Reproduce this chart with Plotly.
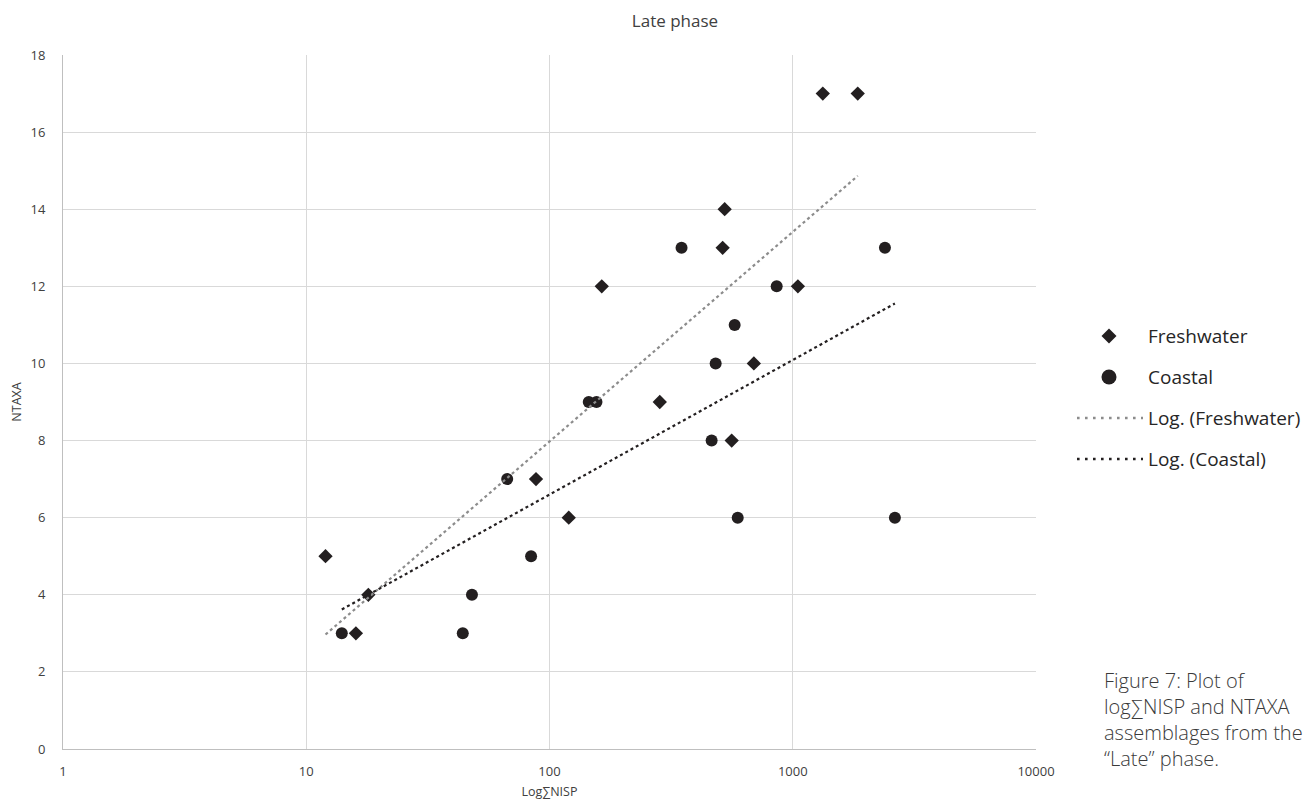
import numpy as np
import plotly.graph_objects as go

# Freshwater assemblages
fresh_nisp = [12, 16, 18, 88, 120, 164, 284, 515, 525, 561, 692, 1050, 1329, 1850]
fresh_ntaxa = [5, 3, 4, 7, 6, 12, 9, 13, 14, 8, 10, 12, 17, 17]

# Coastal assemblages
coast_nisp = [14, 44, 48, 67, 84, 145, 156, 349, 464, 482, 577, 594, 859, 2393, 2630]
coast_ntaxa = [3, 3, 4, 7, 5, 9, 9, 13, 8, 10, 11, 6, 12, 13, 6]

x_ticks = [1, 10, 100, 1000, 10000]
x_tick_labels = ["1", "10", "100", "1000", "10000"]
y_ticks = list(range(0, 19, 2))

legend_labels = ["Freshwater", "Coastal", "Log. (Freshwater)", "Log. (Coastal)"]


def log_trend(xs, ys):
    lx = np.log(np.array(xs, dtype=float))
    a, b = np.polyfit(lx, np.array(ys, dtype=float), 1)
    xx = np.exp(np.linspace(lx.min(), lx.max(), 50))
    return xx, a * np.log(xx) + b


fx, fy = log_trend(fresh_nisp, fresh_ntaxa)
cx, cy = log_trend(coast_nisp, coast_ntaxa)

FONT = "Open Sans, Noto Sans, sans-serif"
DARK = "#231f20"
GRAY_LINE = "#8c8c8c"
TICK_COLOR = "#404040"

W, H = 1310, 807
L, R, T, B = 63, 274, 55, 58
PW, PH = W - L - R, H - T - B


def px(x):
    return (x - L) / PW


def py(y):
    return (H - B - y) / PH


fig = go.Figure()
fig.add_trace(go.Scatter(
    x=fresh_nisp, y=fresh_ntaxa, mode="markers", name=legend_labels[0],
    marker=dict(symbol="diamond", size=11, color=DARK),
))
fig.add_trace(go.Scatter(
    x=coast_nisp, y=coast_ntaxa, mode="markers", name=legend_labels[1],
    marker=dict(symbol="circle", size=12, color=DARK),
))
fig.add_trace(go.Scatter(
    x=fx, y=fy, mode="lines", name=legend_labels[2],
    line=dict(color=GRAY_LINE, width=2.2, dash="dot"),
))
fig.add_trace(go.Scatter(
    x=cx, y=cy, mode="lines", name=legend_labels[3],
    line=dict(color=DARK, width=2.2, dash="dot"),
))

# Manual legend (to match the wide key samples)
rows_y = [336, 377, 418, 459]
key_cx = 1109
shapes = []
shapes.append(dict(type="path", xref="paper", yref="paper",
                   xsizemode="pixel", ysizemode="pixel",
                   xanchor=px(key_cx), yanchor=py(rows_y[0]),
                   path="M0,-7.5 L7.5,0 L0,7.5 L-7.5,0 Z",
                   fillcolor=DARK, line=dict(width=0)))
shapes.append(dict(type="circle", xref="paper", yref="paper",
                   xsizemode="pixel", ysizemode="pixel",
                   xanchor=px(key_cx), yanchor=py(rows_y[1]),
                   x0=-7.5, x1=7.5, y0=-7.5, y1=7.5,
                   fillcolor=DARK, line=dict(width=0)))
for ry, col in zip(rows_y[2:], [GRAY_LINE, DARK]):
    shapes.append(dict(type="line", xref="paper", yref="paper",
                       x0=px(1077), x1=px(1143), y0=py(ry), y1=py(ry),
                       line=dict(color=col, width=2.6, dash="2.6px,5.4px")))

annotations = []
for lab, ry in zip(legend_labels, rows_y):
    annotations.append(dict(text=lab, xref="paper", yref="paper",
                            x=px(1146), y=py(ry), xanchor="left", yanchor="middle",
                            showarrow=False,
                            font=dict(size=19, color="#262626", family=FONT)))
annotations.append(dict(
    text="Figure 7: Plot of<br>log∑NISP and NTAXA<br>assemblages from the<br>“Late” phase.",
    xref="paper", yref="paper", x=px(1102), y=py(665),
    xanchor="left", yanchor="top", align="left", showarrow=False,
    font=dict(size=20, color="#3a3a3a", family=FONT, weight=300),
))

fig.update_layout(
    width=W, height=H,
    margin=dict(l=L, r=R, t=T, b=B, autoexpand=False),
    paper_bgcolor="white", plot_bgcolor="white",
    font=dict(family=FONT, color=TICK_COLOR, size=12),
    title=dict(text="Late phase", x=675 / W, xanchor="center",
               y=1 - 21 / H, yanchor="middle",
               font=dict(size=17, color="#404040", family=FONT)),
    showlegend=False,
    shapes=shapes,
    annotations=annotations,
)

fig.update_xaxes(
    type="log", range=[0, 4], tickvals=x_ticks, ticktext=x_tick_labels,
    showgrid=True, gridcolor="#d9d9d9", gridwidth=1,
    showline=True, linecolor="#bfbfbf", linewidth=1, zeroline=False,
    automargin=False,
    ticks="", ticklabelstandoff=10, tickfont=dict(size=13, color=TICK_COLOR),
    title=dict(text="Log∑NISP", font=dict(size=12.5, color=TICK_COLOR), standoff=8),
)
fig.update_yaxes(
    range=[0, 18], tickvals=y_ticks,
    showgrid=True, gridcolor="#d9d9d9", gridwidth=1,
    showline=True, linecolor="#bfbfbf", linewidth=1, zeroline=False,
    automargin=False,
    ticks="", ticklabelstandoff=14, tickfont=dict(size=13, color=TICK_COLOR),
    title=dict(text="NTAXA", font=dict(size=12.5, color=TICK_COLOR), standoff=6),
)

fig.write_html("out.html")
